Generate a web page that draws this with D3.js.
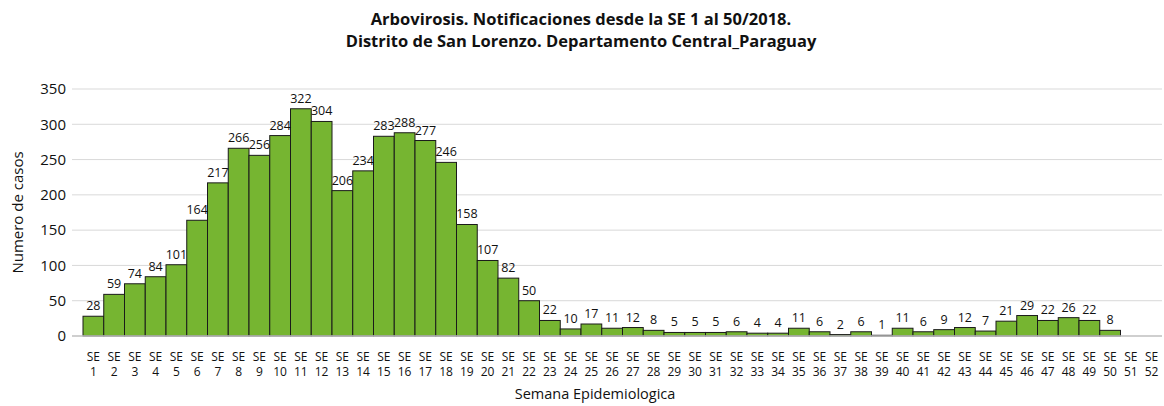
<!DOCTYPE html>
<html>
<head>
<meta charset="utf-8">
<script src="https://cdn.jsdelivr.net/npm/d3@7"></script>
<style>
  body { margin: 0; background: #fff; }
  text { font-family: "Open Sans", "Noto Sans", sans-serif; fill: #111; }
</style>
</head>
<body>
<svg id="chart"></svg>
<script>
// data
var weeks = d3.range(1, 53).map(function(i) { return "SE " + i; });
var cases = [28, 59, 74, 84, 101, 164, 217, 266, 256, 284,
             322, 304, 206, 234, 283, 288, 277, 246, 158, 107,
             82, 50, 22, 10, 17, 11, 12, 8, 5, 5,
             5, 6, 4, 4, 11, 6, 2, 6, 1, 11,
             6, 9, 12, 7, 21, 29, 22, 26, 22, 8,
             null, null];
var yTicks = [0, 50, 100, 150, 200, 250, 300, 350];
var titleLines = ["Arbovirosis. Notificaciones desde la SE 1 al 50/2018.",
                  "Distrito de San Lorenzo. Departamento Central_Paraguay"];

var W = 1164, H = 406;
var margin = {top: 89, right: 2, bottom: 70, left: 83};
var width = W - margin.left - margin.right,
    height = H - margin.top - margin.bottom;

var svg = d3.select("#chart").attr("width", W).attr("height", H);

// Title
svg.append("text")
    .attr("x", 581).attr("y", 25)
    .attr("text-anchor", "middle")
    .style("font-weight", "bold").style("font-size", "16.5px")
    .selectAll("tspan").data(titleLines).enter().append("tspan")
    .attr("x", 581)
    .attr("dy", function(d, i) { return i ? 22 : 0; })
    .text(function(d) { return d; });

var g = svg.append("g").attr("transform", "translate(" + margin.left + "," + margin.top + ")");

var x = d3.scaleBand().domain(weeks).range([0, width]).padding(0);
var y = d3.scaleLinear().domain([0, 350]).range([height, 0]);

// gridlines
g.append("g")
    .selectAll("line").data(yTicks.slice(1)).enter().append("line")
    .attr("x1", -11).attr("x2", width)
    .attr("y1", function(d) { return y(d); })
    .attr("y2", function(d) { return y(d); })
    .attr("stroke", "#d9d9d9").attr("stroke-width", 1);

// y axis
var yAxis = g.append("g")
    .call(d3.axisLeft(y).tickValues(yTicks).tickSize(0).tickPadding(17));
yAxis.select(".domain").remove();
yAxis.selectAll("text").style("font-size", "15px").attr("fill", "#111");

// bars
var data = weeks.map(function(w, i) { return {week: w, v: cases[i]}; })
    .filter(function(d) { return d.v != null; });

g.selectAll("rect.bar").data(data).enter().append("rect")
    .attr("class", "bar")
    .attr("x", function(d) { return x(d.week); })
    .attr("y", function(d) { return y(d.v); })
    .attr("width", x.bandwidth())
    .attr("height", function(d) { return y(0) - y(d.v); })
    .attr("fill", "#76b531")
    .attr("stroke", "#1a1a1a")
    .attr("stroke-width", 1);

// baseline
g.append("line")
    .attr("x1", -11).attr("x2", width)
    .attr("y1", y(0)).attr("y2", y(0))
    .attr("stroke", "#bfbfbf").attr("stroke-width", 1.5);

// value labels
g.selectAll("text.val").data(data).enter().append("text")
    .attr("class", "val")
    .attr("x", function(d) { return x(d.week) + x.bandwidth() / 2; })
    .attr("y", function(d) { return y(d.v) - 6; })
    .attr("text-anchor", "middle")
    .style("font-size", "12.5px")
    .text(function(d) { return d.v; });

// x tick labels (two lines)
var xl = g.append("g").selectAll("text").data(weeks).enter().append("text")
    .attr("x", function(d) { return x(d) + x.bandwidth() / 2; })
    .attr("y", height + 25)
    .attr("text-anchor", "middle")
    .style("font-size", "12px");
xl.append("tspan")
    .attr("x", function(d) { return x(d) + x.bandwidth() / 2; })
    .text(function(d) { return d.split(" ")[0]; });
xl.append("tspan")
    .attr("x", function(d) { return x(d) + x.bandwidth() / 2; })
    .attr("dy", 15)
    .text(function(d) { return d.split(" ")[1]; });

// axis titles
svg.append("text")
    .attr("x", 595).attr("y", 399)
    .attr("text-anchor", "middle")
    .style("font-size", "14.5px")
    .text("Semana Epidemiologica");

svg.append("text")
    .attr("transform", "translate(23," + (margin.top + height / 2) + ") rotate(-90)")
    .attr("text-anchor", "middle")
    .style("font-size", "15px")
    .text("Numero de casos");
</script>
</body>
</html>
